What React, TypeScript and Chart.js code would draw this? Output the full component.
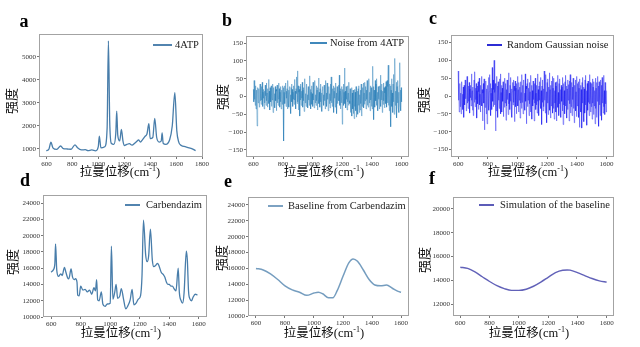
import React, { useEffect, useRef } from 'react';
import { Chart, registerables } from 'chart.js';
Chart.register(...registerables);

// ---------- text ----------
const X_LABEL_MAIN = '拉曼位移(cm';
const X_LABEL_SUP = '-1';
const X_LABEL_END = ')';
const Y_LABEL = '强度';

// ---------- ticks ----------
const TICKS_X_A = [600, 800, 1000, 1200, 1400, 1600, 1800];
const TICKS_X = [600, 800, 1000, 1200, 1400, 1600];
const TICKS_Y_A = [1000, 2000, 3000, 4000, 5000];
const TICKS_Y_NOISE = [-150, -100, -50, 0, 50, 100, 150];
const TICKS_Y_CARB = [10000, 12000, 14000, 16000, 18000, 20000, 22000, 24000];
const TICKS_Y_SIM = [12000, 14000, 16000, 18000, 20000];

// ---------- (a) 4ATP spectrum ----------
const A_X = [600, 620, 635, 650, 680, 710, 730, 760, 790, 820, 840, 870, 900, 920, 950, 980, 1000, 1008, 1020, 1050, 1068, 1078, 1088, 1100, 1120, 1135, 1142, 1150, 1165, 1178, 1190, 1200, 1220, 1240, 1260, 1280, 1300, 1310, 1325, 1340, 1360, 1375, 1390, 1400, 1420, 1435, 1450, 1470, 1485, 1492, 1500, 1520, 1550, 1570, 1590, 1605, 1620, 1640, 1670, 1700, 1720, 1750];
const A_Y = [920, 1000, 1300, 1050, 980, 1130, 1020, 1000, 990, 1180, 1050, 960, 970, 930, 960, 920, 1100, 1560, 1050, 1100, 1900, 5700, 2200, 1250, 1200, 1700, 2650, 1600, 1350, 1850, 1350, 1150, 1200, 1230, 1170, 1250, 1350, 1400, 1300, 1400, 1550, 1650, 2100, 1450, 1500, 2330, 1500, 1300, 1350, 1700, 1250, 1200, 1400, 2000, 3450, 1800, 1300, 1150, 1100, 1050, 1020, 930];

// ---------- (b) noise from 4ATP (600..1600, step 2.5) ----------
const B_NOISE = [
  20, -15, 45, -8, 12, -25, 30, -35, 5, 18,
  -83, 10, 25, -18, -5, 22, -30, 15, 35, -12,
  8, -22, 28, -10, 40, -28, 12, -5, 20, -35,
  15, -18, 32, 2, -25, 38, -12, 10, -30, 22,
  -8, 48, -20, 15, -38, 25, 5, -15, 30, -28,
  18, -10, 35, -45, 12, 25, -20, 8, -32, 28,
  -12, 20, -40, 15, 32, -18, 5, -25, 38, -8,
  22, -30, 12, -15, 28, -35, 18, 2, -22, 30,
  -10, 25, -125, 12, 30, -20, 8, 38, -28, 15,
  -5, 22, -35, 45, -12, 18, -30, 10, 28, -18,
  5, -48, 25, 35, -15, 20, -28, 12, -8, 30,
  -22, 48, -10, 15, -35, 22, 8, 55, -20, 72,
  -15, 30, -38, 12, 20, -55, 28, -10, 35, -25,
  15, -5, 40, -30, 18, -12, 25, -42, 10, 50,
  -18, 8, -28, 22, 35, -15, 5, -32, 28, -10,
  18, -25, 58, -12, 20, -35, 12, 30, -22, 8,
  -28, 40, -10, 20, -32, 15, 45, -18, 5, -25,
  30, -12, 18, -38, 25, -5, 52, -20, 12, -30,
  22, -15, 35, -28, 10, -42, 18, 28, -10, 5,
  -25, 32, -12, 20, -35, 45, -18, 10, -28, 38,
  -8, 22, -40, 15, 28, -20, 8, -32, 35, -12,
  55, -18, 12, -28, 22, -10, 30, -45, 15, -5,
  25, -30, 38, -15, 10, -48, 28, -20, 18, -8,
  32, -12, 60, -25, 15, -35, 22, 5, -18, 28,
  -78, 20, -10, 35, -25, 12, 80, -20, 15, -32,
  28, -8, 18, -38, 30, -15, 10, -25, 40, -12,
  -20, 22, -45, 8, -30, 25, -55, 10, -35, 18,
  -48, 5, -62, 20, -28, 12, -40, 28, -58, 8,
  -35, 15, -50, 22, -25, 30, -45, 5, -38, 18,
  -20, 35, -55, 12, -28, 25, -15, 38, -32, 10,
  -22, 40, -12, 28, -35, 18, -8, 45, -25, 15,
  -30, 22, 50, -18, 12, -40, 30, -10, 25, -28,
  20, -35, 85, -15, 28, -65, 18, 5, -30, 45,
  -12, 35, -25, 50, -18, 12, -40, 28, -8, 22,
  -35, 30, -15, 60, -28, 18, -10, 35, -45, 15,
  -22, 38, -12, 25, -32, 10, 28, -20, 42, -15,
  -30, 45, -18, 28, 88, -25, 12, -40, 35, -20,
  30, -85, 18, 50, -28, 10, -45, 35, -15, 62,
  -50, 22, 107, -25, 15, -35, 40, -60, 28, -18,
  45, -30, 12, -45, 30, 95, -22, 18, -40, 25,
  -15,
];

// ---------- (c) random gaussian noise (600..1600, step 2.5) ----------
const C_NOISE = [
  70, -12, 28, -45, 15, 35, -30, 8, -50, 22,
  40, -18, 5, -38, 25, -60, 30, 12, -25, 45,
  -8, 32, -42, 18, 55, -20, 10, -35, 28, -15,
  38, -48, 20, -5, 30, -28, 62, -12, 15, -40,
  25, -55, 10, 45, -18, 68, -30, 22, -10, 35,
  -62, 15, 28, -22, 40, -38, 12, 50, -25, 5,
  -45, 30, -15, 55, -28, 18, -70, 8, 35, -20,
  48, -95, 25, -32, 10, 42, -50, 20, -78, 15,
  30, -22, 52, -40, 12, 60, -28, 35, -55, 8,
  22, -38, 80, -15, 45, -30, 18, 100, -25, 10,
  35, -98, 20, -42, 55, -18, 28, -60, 40, -12,
  15, -35, 48, -25, 62, -50, 10, 30, -45, 22,
  -15, 40, -58, 25, 12, -32, 50, -20, 35, -68,
  18, -28, 45, -10, 28, -52, 65, -22, 8, -38,
  30, -15, 52, -42, 20, -60, 12, 38, -25, 45,
  -18, 28, -72, 15, 42, -30, 22, -50, 35, -8,
  55, -28, 18, -45, 38, -12, 25, -62, 40, -20,
  10, -35, 60, -18, 30, -50, 15, 45, -25, 8,
  -40, 62, -15, 28, -78, 20, 35, -30, 48, -12,
  22, -55, 38, -22, 12, -45, 58, -18, 30, -65,
  15, -28, 42, -10, 25, -70, 35, -20, 50, -38,
  8, -25, 30, -48, 62, -15, 18, -55, 28, -12,
  40, -22, 52, -35, 15, -80, 28, -18, 45, -42,
  20, -30, 70, -12, 35, -48, 60, -25, 12, -75,
  38, -20, 48, -52, 25, -15, 65, -40, 18, -62,
  30, -28, 42, -10, 55, -48, 22, -35, 50, -65,
  15, -20, 38, -45, 28, -70, 40, -18, 58, -32,
  10, -55, 35, -22, 48, -40, 18, -60, 30, -15,
  25, -42, 52, -80, 35, -25, 15, -50, 40, -28,
  58, -18, 28, -62, 20, -38, 45, -12, 32, -70,
  42, -22, 60, -48, 15, -30, 38, -55, 25, -10,
  50, -35, 18, -75, 30, -20, 45, -42, 12, -58,
  55, -28, 35, -15, 40, -60, 22, -88, 48, -32,
  30, -45, 18, -90, 38, -20, 52, -35, 25, -72,
  20, -48, 45, -25, 58, -30, 15, -82, 35, -40,
  42, -18, 28, -55, 60, -22, 38, -45, 12, -30,
  35, -65, 48, -20, 25, -52, 40, -28, 15, -78,
  50, -35, 22, -60, 38, -15, 55, -45, 28, -85,
  40, -25, 18, -55, 45, -32, 30, -68, 52, -20,
  25, -48, 58, -30, 15, -52, 38, -22, 30, -45,
  15,
];
const NOISE_START = 600;
const NOISE_STEP = 2.5;

// ---------- (d) Carbendazim ----------
const D_X = [600, 615, 625, 630, 638, 650, 665, 675, 690, 700, 712, 720, 735, 745, 755, 765, 775, 780, 790, 800, 815, 830, 845, 860, 875, 890, 900, 908, 915, 925, 940, 950, 965, 980, 1000, 1008, 1018, 1030, 1040, 1050, 1065, 1075, 1090, 1105, 1120, 1135, 1148, 1160, 1175, 1190, 1205, 1215, 1225, 1240, 1250, 1260, 1272, 1285, 1295, 1310, 1320, 1330, 1345, 1360, 1370, 1380, 1390, 1400, 1410, 1420, 1435, 1445, 1460, 1468, 1480, 1490, 1500, 1515, 1522, 1530, 1540, 1550, 1560, 1575, 1590];
const D_Y = [15500, 15800, 16500, 19000, 15800, 15000, 15300, 15100, 16100, 15500, 14800, 14700, 15900, 14900, 14600, 14700, 14300, 12700, 12600, 13800, 13300, 13400, 13100, 13300, 12800, 13600, 13200, 14600, 12100, 12000, 13100, 11600, 11300, 11600, 11700, 18700, 12200, 13000, 14000, 12300, 12600, 13500, 12200, 11000, 11400, 12100, 13400, 11500, 11700, 12200, 12600, 15000, 21900, 17600, 16800, 17500, 20800, 17000, 16200, 16400, 16600, 16300, 15500, 15200, 14900, 14300, 14000, 14000, 13800, 13800, 13400, 13200, 16000, 13000, 12000, 11700, 13000, 18100, 17000, 13200, 12200, 12000, 12400, 12800, 12700];

// ---------- (e) Baseline from Carbendazim ----------
const E_X = [600, 650, 700, 750, 800, 850, 900, 950, 1000, 1030, 1060, 1100, 1130, 1160, 1200, 1240, 1270, 1300, 1340, 1380, 1420, 1460, 1500, 1540, 1580, 1600];
const E_Y = [16000, 15800, 15300, 14600, 13800, 13300, 13000, 12600, 12900, 13000, 12800, 12300, 12300, 13200, 15000, 16700, 17200, 16900, 15800, 14600, 13900, 13800, 13900, 13500, 13100, 13000];

// ---------- (f) Simulation of the baseline ----------
const F_X = [600, 650, 700, 750, 800, 850, 900, 950, 1000, 1050, 1100, 1150, 1200, 1250, 1300, 1330, 1350, 1400, 1450, 1500, 1550, 1600];
const F_Y = [15100, 15000, 14700, 14300, 13900, 13550, 13300, 13150, 13150, 13250, 13500, 13850, 14250, 14650, 14850, 14870, 14850, 14650, 14400, 14150, 13950, 13850];

const pairs = (xs: number[], ys: number[]) => ys.map((y, i) => ({ x: xs[i], y }));
const noisePts = (vals: number[]) => vals.map((y, i) => ({ x: NOISE_START + i * NOISE_STEP, y }));

const PANELS = [
  {
    letter: 'a', L: 39, T: 34, R: 203, B: 157, xMin: 543, xMax: 1807, yMin: 652, yMax: 6000,
    xTicks: TICKS_X_A, yTicks: TICKS_Y_A, data: pairs(A_X, A_Y), color: 'rgba(62,118,165,0.95)', lw: 1.3, smooth: true,
    legend: '4ATP', legendColor: '#3f77a6', lg: [153, 172, 45, 175], letterPos: [24, 22], yLab: [13, 101], xLab: [120, 173],
  },
  {
    letter: 'b', L: 246, T: 36, R: 409, B: 157, xMin: 550, xMax: 1650, yMin: -170, yMax: 170,
    xTicks: TICKS_X, yTicks: TICKS_Y_NOISE, data: noisePts(B_NOISE), color: 'rgba(31,119,180,0.72)', lw: 0.6, smooth: false,
    legend: 'Noise from 4ATP', legendColor: '#2b7bb4', lg: [310, 327, 43, 330], letterPos: [227, 21], yLab: [224, 97], xLab: [324, 173],
  },
  {
    letter: 'c', L: 451, T: 35, R: 614, B: 157, xMin: 552, xMax: 1650, yMin: -171, yMax: 171,
    xTicks: TICKS_X, yTicks: TICKS_Y_NOISE, data: noisePts(C_NOISE), color: 'rgba(10,10,240,0.66)', lw: 0.6, smooth: false,
    legend: 'Random Gaussian noise', legendColor: '#1515d0', lg: [487, 502, 45, 507], letterPos: [433, 19], yLab: [425, 100], xLab: [528, 173],
  },
  {
    letter: 'd', L: 43, T: 195, R: 207, B: 317, xMin: 545, xMax: 1655, yMin: 10000, yMax: 25000,
    xTicks: TICKS_X, yTicks: TICKS_Y_CARB, data: pairs(D_X, D_Y), color: 'rgba(62,118,165,0.95)', lw: 1.3, smooth: true,
    legend: 'Carbendazim', legendColor: '#3f77a6', lg: [125, 140, 205, 146], letterPos: [25, 181], yLab: [14, 262], xLab: [121, 334],
  },
  {
    letter: 'e', L: 248, T: 197, R: 409, B: 316, xMin: 545, xMax: 1655, yMin: 10000, yMax: 25000,
    xTicks: TICKS_X, yTicks: TICKS_Y_CARB, data: pairs(E_X, E_Y), color: 'rgba(110,152,188,0.95)', lw: 1.5, smooth: true,
    legend: 'Baseline from Carbendazim', legendColor: '#6f98bb', lg: [268, 283, 206, 288], letterPos: [228, 182], yLab: [223, 258], xLab: [324, 334],
  },
  {
    letter: 'f', L: 453, T: 197, R: 614, B: 316, xMin: 550, xMax: 1650, yMin: 11000, yMax: 21000,
    xTicks: TICKS_X, yTicks: TICKS_Y_SIM, data: pairs(F_X, F_Y), color: 'rgba(88,88,180,0.95)', lw: 1.4, smooth: true,
    legend: 'Simulation of the baseline', legendColor: '#4a4ab0', lg: [479, 494, 205, 500], letterPos: [432, 179], yLab: [426, 260], xLab: [529, 334],
  },
];

const SERIF = '"Liberation Serif", "Times New Roman", serif';
const CJK = '"Liberation Serif", "Noto Sans CJK SC", sans-serif';

const Y_AXIS_W = 30;
const X_AXIS_H = 12;
const PAD_L = 38, PAD_T = 30, PAD_R = 14, PAD_B = 25;

const annotPlugin = {
  id: 'annot',
  afterDraw(chart: any, _args: any, opts: any) {
    const p = opts.panel;
    const ox = p.L - PAD_L;
    const oy = p.T - PAD_T;
    const ctx = chart.ctx as CanvasRenderingContext2D;
    const { left, top, right, bottom } = chart.chartArea;
    ctx.save();
    // frame
    ctx.strokeStyle = '#a3a3a3';
    ctx.lineWidth = 1;
    const l = Math.round(left) + 0.5, t = Math.round(top) + 0.5;
    const r = Math.round(right) - 0.5, b = Math.round(bottom) - 0.5;
    ctx.strokeRect(l, t, r - l, b - t);
    // legend
    ctx.strokeStyle = p.legendColor;
    ctx.lineWidth = 1.8;
    ctx.beginPath();
    ctx.moveTo(p.lg[0] - ox, p.lg[2] - oy);
    ctx.lineTo(p.lg[1] - ox, p.lg[2] - oy);
    ctx.stroke();
    ctx.fillStyle = '#1a1a1a';
    ctx.font = `10.5px ${SERIF}`;
    ctx.textAlign = 'left';
    ctx.textBaseline = 'middle';
    ctx.fillText(p.legend, p.lg[3] - ox, p.lg[2] - oy);
    // panel letter
    ctx.fillStyle = '#000';
    ctx.font = `bold 18px ${SERIF}`;
    ctx.textAlign = 'center';
    ctx.fillText(p.letter, p.letterPos[0] - ox, p.letterPos[1] - oy);
    // y label
    ctx.save();
    ctx.translate(p.yLab[0] - ox, p.yLab[1] - oy);
    ctx.rotate(-Math.PI / 2);
    ctx.font = `13px ${CJK}`;
    ctx.textAlign = 'center';
    ctx.fillStyle = '#111';
    ctx.fillText(Y_LABEL, 0, 0);
    ctx.restore();
    // x label with superscript
    const mainFont = `12.5px ${CJK}`;
    const supFont = `8px ${SERIF}`;
    ctx.font = mainFont;
    const w1 = ctx.measureText(X_LABEL_MAIN).width;
    const w3 = ctx.measureText(X_LABEL_END).width;
    ctx.font = supFont;
    const w2 = ctx.measureText(X_LABEL_SUP).width;
    const total = w1 + w2 + w3;
    let x = p.xLab[0] - ox - total / 2;
    const y = p.xLab[1] - oy;
    ctx.textAlign = 'left';
    ctx.fillStyle = '#111';
    ctx.font = mainFont;
    ctx.fillText(X_LABEL_MAIN, x, y);
    x += w1;
    ctx.font = supFont;
    ctx.fillText(X_LABEL_SUP, x, y - 4);
    x += w2;
    ctx.font = mainFont;
    ctx.fillText(X_LABEL_END, x, y);
    ctx.restore();
  },
};

const fmt = (v: number | string) => String(v).replace('-', '\u2212');

function Panel({ p }: { p: any }) {
  const ref = useRef<HTMLCanvasElement | null>(null);
  const cx = p.L - PAD_L;
  const cy = p.T - PAD_T;
  const cw = p.R - cx + PAD_R;
  const ch = p.B - cy + PAD_B;
  useEffect(() => {
    if (!ref.current) return;
    const tickFont = { family: SERIF, size: 7 };
    const chart = new Chart(ref.current, {
      type: 'line',
      data: {
        datasets: [
          {
            label: p.legend,
            data: p.data,
            borderColor: p.color,
            borderWidth: p.lw,
            pointRadius: 0,
            fill: false,
            tension: p.smooth ? 0.4 : 0,
            cubicInterpolationMode: p.smooth ? 'monotone' : 'default',
          } as any,
        ],
      },
      options: {
        animation: false,
        responsive: false,
        maintainAspectRatio: false,
        events: [],
        layout: {
          padding: {
            left: PAD_L - Y_AXIS_W,
            top: PAD_T,
            right: PAD_R,
            bottom: PAD_B - X_AXIS_H,
          },
        },
        plugins: {
          legend: { display: false },
          tooltip: { enabled: false },
          annot: { panel: p },
        } as any,
        scales: {
          x: {
            type: 'linear',
            min: p.xMin,
            max: p.xMax,
            grid: { display: true, drawOnChartArea: false, drawTicks: true, tickLength: 2, color: '#777' },
            border: { display: false },
            ticks: {
              font: tickFont,
              color: '#333',
              padding: 1,
              autoSkip: false,
              maxRotation: 0,
              callback: (v: any) => fmt(v),
            },
            afterBuildTicks: (s: any) => {
              s.ticks = p.xTicks.map((v: number) => ({ value: v }));
            },
            afterFit: (s: any) => {
              s.height = X_AXIS_H;
            },
          },
          y: {
            type: 'linear',
            min: p.yMin,
            max: p.yMax,
            grid: { display: true, drawOnChartArea: false, drawTicks: true, tickLength: 2, color: '#777' },
            border: { display: false },
            ticks: {
              font: tickFont,
              color: '#333',
              padding: 1,
              autoSkip: false,
              callback: (v: any) => fmt(v),
            },
            afterBuildTicks: (s: any) => {
              s.ticks = p.yTicks.map((v: number) => ({ value: v }));
            },
            afterFit: (s: any) => {
              s.width = Y_AXIS_W;
            },
          },
        },
      },
      plugins: [annotPlugin],
    } as any);
    return () => chart.destroy();
  }, []);
  return (
    <canvas
      ref={ref}
      width={cw}
      height={ch}
      style={{ position: 'absolute', left: cx, top: cy, width: cw, height: ch }}
    />
  );
}

export default function App() {
  return (
    <div style={{ position: 'absolute', left: 0, top: 0, width: 640, height: 347, background: '#fff', overflow: 'hidden' }}>
      {PANELS.map((p) => (
        <Panel key={p.letter} p={p} />
      ))}
    </div>
  );
}
